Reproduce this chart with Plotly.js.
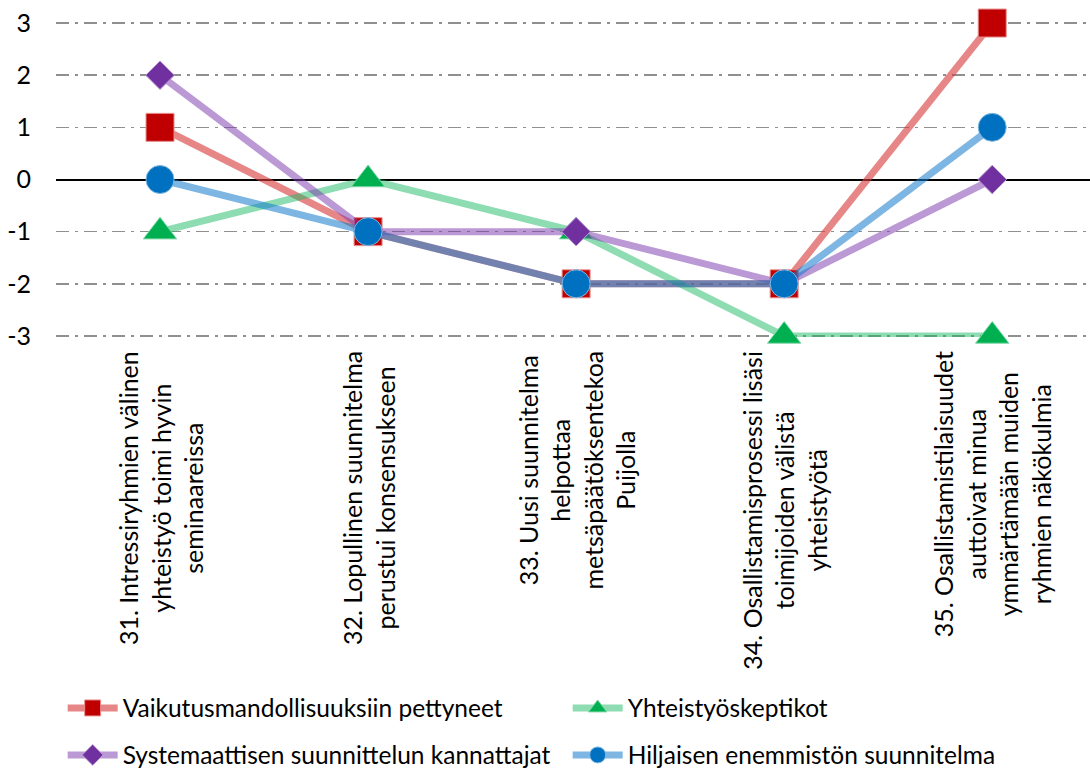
<!DOCTYPE html>
<html>
<head>
<meta charset="utf-8">
<script src="https://cdn.plot.ly/plotly-3.0.1.min.js"></script>
<style>html,body{margin:0;padding:0;background:#fff;}#chart{width:1090px;height:769px;}</style>
</head>
<body>
<div id="chart"></div>
<script>
const categories = [
  "31. Intressiryhmien välinen<br>yhteistyö toimi hyvin<br>seminaareissa",
  "32. Lopullinen suunnitelma<br>perustui konsensukseen",
  "33. Uusi suunnitelma<br>helpottaa<br>metsäpäätöksentekoa<br>Puijolla",
  "34. Osallistamisprosessi lisäsi<br>toimijoiden välistä<br>yhteistyötä",
  "35. Osallistamistilaisuudet<br>auttoivat minua<br>ymmärtämään muiden<br>ryhmien näkökulmia"
];
const seriesNames = [
  "Vaikutusmandollisuuksiin pettyneet",
  "Yhteistyöskeptikot",
  "Systemaattisen suunnittelun kannattajat",
  "Hiljaisen enemmistön suunnitelma"
];
const vaikutus = [1, -1, -2, -2, 3];
const yhteistyo = [-1, 0, -1, -3, -3];
const systemaattinen = [2, -1, -1, -2, 0];
const hiljainen = [0, -1, -2, -2, 1];
const yTicks = [-3, -2, -1, 0, 1, 2, 3];

const FONT = "Lato, 'Open Sans', sans-serif";

const styles = [
  {line: "rgba(214,60,60,0.62)", marker: "#C00000", border: "#E89090", symbol: "square", size: 28, legend: "legend"},
  {line: "rgba(30,185,100,0.50)", marker: "#00B050", border: "#80D8A8", symbol: "triangle-up", size: 29, legend: "legend"},
  {line: "rgba(125,60,175,0.52)", marker: "#7030A0", border: "#B898D0", symbol: "diamond", size: 22, legend: "legend2"},
  {line: "rgba(25,125,205,0.56)", marker: "#0070C0", border: "#80B8E0", symbol: "circle", size: 28, legend: "legend2"}
];
const values = [vaikutus, yhteistyo, systemaattinen, hiljainen];

const traces = values.map((v, i) => ({
  type: "scatter",
  mode: "lines+markers",
  name: seriesNames[i],
  legend: styles[i].legend,
  x: categories,
  y: v,
  cliponaxis: false,
  line: {color: styles[i].line, width: 7},
  marker: {symbol: styles[i].symbol, size: styles[i].size, color: styles[i].marker,
           line: {color: styles[i].border, width: 1}}
}));

const annotations = categories.map(c => ({
  x: c, xref: "x",
  y: 0, yref: "paper",
  yanchor: "top", xanchor: "center",
  yshift: -12,
  text: c,
  textangle: -90,
  showarrow: false,
  align: "center",
  font: {family: FONT, size: 25, color: "#000"}
}));

const legendBase = {
  orientation: "h",
  xref: "container", yref: "container",
  x: 0.0575,
  xanchor: "left", yanchor: "middle",
  entrywidth: 440,
  entrywidthmode: "pixels",
  itemwidth: 50,
  font: {family: FONT, size: 24.5, color: "#000"},
  bgcolor: "rgba(0,0,0,0)"
};

const layout = {
  width: 1090, height: 769,
  margin: {l: 56, r: 0, t: 22, b: 432},
  paper_bgcolor: "#fff", plot_bgcolor: "#fff",
  font: {family: FONT, size: 24, color: "#000"},
  showlegend: true,
  xaxis: {
    type: "category",
    range: [-0.5, 4.47],
    showticklabels: false,
    showgrid: false,
    zeroline: false,
    showline: false,
    ticks: ""
  },
  yaxis: {
    range: [-3.02, 3.02],
    tickvals: yTicks,
    ticktext: yTicks.map(String),
    showgrid: true,
    gridcolor: "#8f8f8f",
    gridwidth: 1.6,
    griddash: "13px,6px,3px,6px",
    zeroline: true,
    zerolinecolor: "#000",
    zerolinewidth: 2,
    showline: false,
    ticks: "",
    ticklabelstandoff: 24,
    tickfont: {family: FONT, size: 25, color: "#000"}
  },
  legend: Object.assign({}, legendBase, {y: 1 - 708 / 769}),
  legend2: Object.assign({}, legendBase, {y: 1 - 755 / 769}),
  annotations: annotations
};

Plotly.newPlot("chart", traces, layout, {displayModeBar: false, staticPlot: true});
</script>
</body>
</html>
